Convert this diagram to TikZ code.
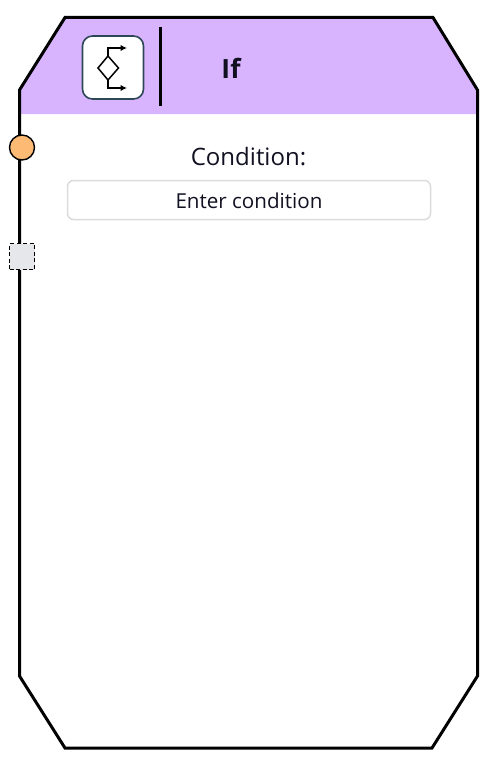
\documentclass[tikz,border=0pt]{standalone}
\usepackage{fontspec}
\setmainfont{Open Sans}
\usetikzlibrary{arrows.meta}
\definecolor{headerfill}{HTML}{D8B4FE}
\definecolor{portorange}{HTML}{FDBA74}
\definecolor{portgray}{HTML}{E5E7EB}
\definecolor{iconedge}{HTML}{2F4858}
\definecolor{inputedge}{HTML}{DCDCDC}
\definecolor{inktext}{HTML}{111122}
\tikzset{
  outline/.style={draw=black,line width=3pt,line join=miter},
  iconline/.style={draw=black,line width=1.5pt},
  iconarrow/.style={iconline,-{Latex[length=6.5pt,width=6.5pt]}},
  labeltext/.style={text=inktext,inner sep=0pt,anchor=center},
}
\begin{document}
\begin{tikzpicture}[x=1pt,y=-1pt]
\useasboundingbox (0,0) rectangle (480,760);
\fill[white] (0,0) rectangle (480,760);
\fill[headerfill] (19.5,90) -- (65,17.5) -- (433,17.5) -- (477.5,90) -- (477.5,114) -- (19.5,114) -- cycle;
\draw[outline] (19.5,90) -- (65,17.5) -- (433,17.5) -- (477.5,90) -- (477.5,676) -- (432,748) -- (65,748) -- (19.5,676) -- cycle;
% icon tile
\node[draw=iconedge,fill=white,line width=1.6pt,rounded corners=10pt,minimum width=61pt,minimum height=63pt,inner sep=0pt] (icon) at (113,67.5) {};
\coordinate (dtop) at (108,56);
\coordinate (dright) at (118.5,68);
\coordinate (dbottom) at (108,80);
\coordinate (dleft) at (98,68);
\coordinate (upbend) at (108,48);
\coordinate (uptip) at (127,48);
\coordinate (lowbend) at (108,88);
\coordinate (lowtip) at (127,88);
\draw[iconline] (dtop) -- (dright) -- (dbottom) -- (dleft) -- cycle;
\draw[iconarrow] (dtop) -- (upbend) -- (uptip);
\draw[iconarrow] (dbottom) -- (lowbend) -- (lowtip);
% divider
\coordinate (divtop) at (160,27);
\coordinate (divbot) at (160,106);
\draw[black,line width=3pt] (divtop) -- (divbot);
\node[labeltext,font=\fontsize{26.5}{30}\selectfont\bfseries] (title) at (231,68) {If};
\node[labeltext,font=\fontsize{24}{28}\selectfont] (condlabel) at (248.5,157) {Condition:};
\node[draw=inputedge,fill=white,line width=1.5pt,rounded corners=6pt,minimum width=363pt,minimum height=39pt,inner sep=0pt] (input) at (249,200) {};
\node[labeltext,font=\fontsize{20.6}{24}\selectfont] (placeholder) at (249,201) {Enter condition};
% ports
\node[circle,draw=black,fill=portorange,line width=1.4pt,minimum size=25pt,inner sep=0pt] (portA) at (22,147.5) {};
\node[draw=black,fill=portgray,line width=1.9pt,dash pattern=on 4pt off 2.5pt,minimum width=25pt,minimum height=26pt,inner sep=0pt] (portB) at (22,256.5) {};
\end{tikzpicture}
\end{document}
